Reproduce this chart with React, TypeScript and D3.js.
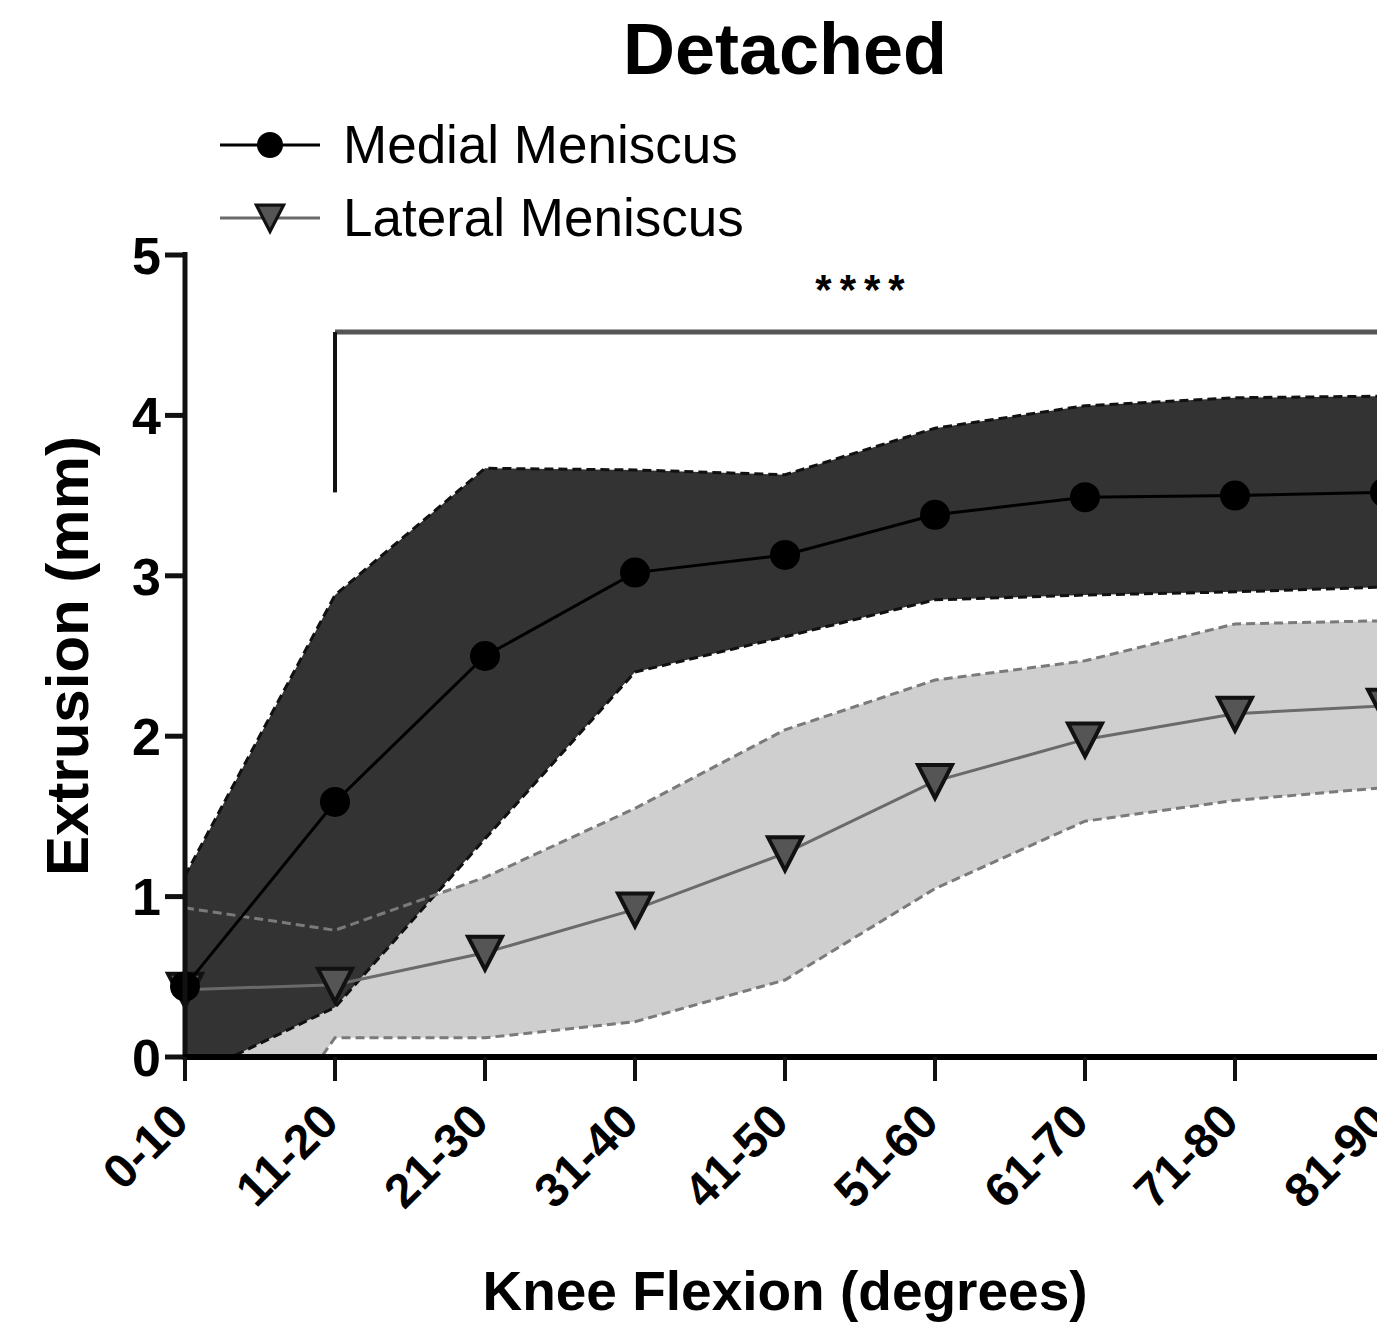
import React from 'react';
import * as d3 from 'd3';

// categories on the x axis (knee flexion bins)
const categories = ['0-10', '11-20', '21-30', '31-40', '41-50', '51-60', '61-70', '71-80', '81-90'];

// medial meniscus: mean and the band edges
const medialMean = [0.44, 1.59, 2.5, 3.02, 3.13, 3.38, 3.49, 3.5, 3.52];
const medialUpper = [1.13, 2.88, 3.67, 3.66, 3.63, 3.92, 4.06, 4.11, 4.12];
const medialLower = [-0.14, 0.31, 1.36, 2.4, 2.62, 2.85, 2.88, 2.9, 2.93];

// lateral meniscus: mean and the band edges
const lateralMean = [0.42, 0.45, 0.65, 0.92, 1.27, 1.72, 1.98, 2.14, 2.19];
const lateralUpper = [0.93, 0.79, 1.12, 1.55, 2.04, 2.35, 2.47, 2.7, 2.72];
const lateralLower = [-1.2, 0.12, 0.12, 0.22, 0.48, 1.05, 1.47, 1.6, 1.68];

const yTicks = [0, 1, 2, 3, 4, 5];

const FONT = '"Liberation Sans", Arial, Helvetica, sans-serif';

const x = d3.scalePoint<string>().domain(categories).range([185, 1385]);
const y = d3.scaleLinear().domain([0, 5]).range([1057, 255]);

const line = d3.line<number>()
    .x((d, i) => x(categories[i]) as number)
    .y((d) => y(d));

const band = (lo: number[], hi: number[]) =>
    d3.area<number>()
        .x((d, i) => x(categories[i]) as number)
        .y0((d, i) => y(lo[i]))
        .y1((d) => y(d))(hi) as string;

const triPath = 'M-17,-16L17,-16L0,17Z';

export default function App() {
    const pts = categories.map((c) => x(c) as number);

    return (
        <svg width={1377} height={1330} style={{ position: 'absolute', left: 0, top: 0, background: '#fff' }}
             fontFamily={FONT}>
            <defs>
                <clipPath id="plot">
                    <rect x={185} y={0} width={1300} height={1057} />
                </clipPath>
            </defs>

            <text x={785} y={74} textAnchor="middle" fontSize={72} fontWeight="bold">Detached</text>

            {/* legend */}
            <g>
                <line x1={220} x2={320} y1={145} y2={145} stroke="#000" strokeWidth={3} />
                <circle cx={270} cy={145} r={13} fill="#000" />
                <text x={343} y={163} fontSize={53}>Medial Meniscus</text>
                <line x1={220} x2={320} y1={218} y2={218} stroke="#6a6a6a" strokeWidth={3} />
                <path d={triPath} transform="translate(270,218) scale(0.8)" fill="#555" stroke="#111" strokeWidth={4} />
                <text x={343} y={236} fontSize={53}>Lateral Meniscus</text>
            </g>

            {/* bands */}
            <g clipPath="url(#plot)">
                <path d={band(lateralLower, lateralUpper)} fill="#cfcfcf" />
                <path d={band(medialLower, medialUpper)} fill="#333333" />
                <path d={line(medialUpper) as string} fill="none" stroke="#111" strokeWidth={3} strokeDasharray="9 5" />
                <path d={line(medialLower) as string} fill="none" stroke="#111" strokeWidth={3} strokeDasharray="9 5" />
                <path d={line(lateralUpper) as string} fill="none" stroke="#7a7a7a" strokeWidth={3} strokeDasharray="9 5" />
                <path d={line(lateralLower) as string} fill="none" stroke="#7a7a7a" strokeWidth={3} strokeDasharray="9 5" />
            </g>

            {/* lateral series */}
            <path d={line(lateralMean) as string} fill="none" stroke="#6a6a6a" strokeWidth={3} />
            {lateralMean.map((v, i) => (
                <path key={`lt-${i}`} d={triPath} transform={`translate(${pts[i]},${y(v)})`}
                      fill="#555" stroke="#111" strokeWidth={4} />
            ))}

            {/* medial series */}
            <path d={line(medialMean) as string} fill="none" stroke="#000" strokeWidth={3} />
            {medialMean.map((v, i) => (
                <circle key={`md-${i}`} cx={pts[i]} cy={y(v)} r={15} fill="#000" />
            ))}

            {/* significance bracket */}
            <line x1={335} x2={1400} y1={y(4.52)} y2={y(4.52)} stroke="#555" strokeWidth={5} />
            <line x1={335} x2={335} y1={y(4.52)} y2={y(3.52)} stroke="#111" strokeWidth={4} />
            <text x={864} y={304} textAnchor="middle" fontSize={42} fontWeight="bold" letterSpacing={8}>****</text>

            {/* y axis */}
            <line x1={185} x2={185} y1={y(5) - 3} y2={y(0) + 3} stroke="#111" strokeWidth={5} />
            {yTicks.map((t) => (
                <g key={`yt-${t}`}>
                    <line x1={165} x2={185} y1={y(t)} y2={y(t)} stroke="#111" strokeWidth={5} />
                    <text x={161} y={y(t)} dy="0.36em" textAnchor="end" fontSize={52} fontWeight="bold">{t}</text>
                </g>
            ))}

            {/* x axis */}
            <line x1={183} x2={1400} y1={y(0)} y2={y(0)} stroke="#000" strokeWidth={6} />
            {categories.map((c, i) => (
                <g key={`xt-${c}`}>
                    <line x1={pts[i]} x2={pts[i]} y1={y(0)} y2={y(0) + 24} stroke="#111" strokeWidth={4} />
                    <text transform={`translate(${pts[i] + 6},${y(0) + 67}) rotate(-45)`} textAnchor="end"
                          fontSize={48} fontWeight="bold">{c}</text>
                </g>
            ))}

            <text transform="translate(88,656) rotate(-90)" textAnchor="middle" fontSize={60} fontWeight="bold">
                Extrusion (mm)
            </text>
            <text x={785} y={1310} textAnchor="middle" fontSize={55} fontWeight="bold">Knee Flexion (degrees)</text>
        </svg>
    );
}
